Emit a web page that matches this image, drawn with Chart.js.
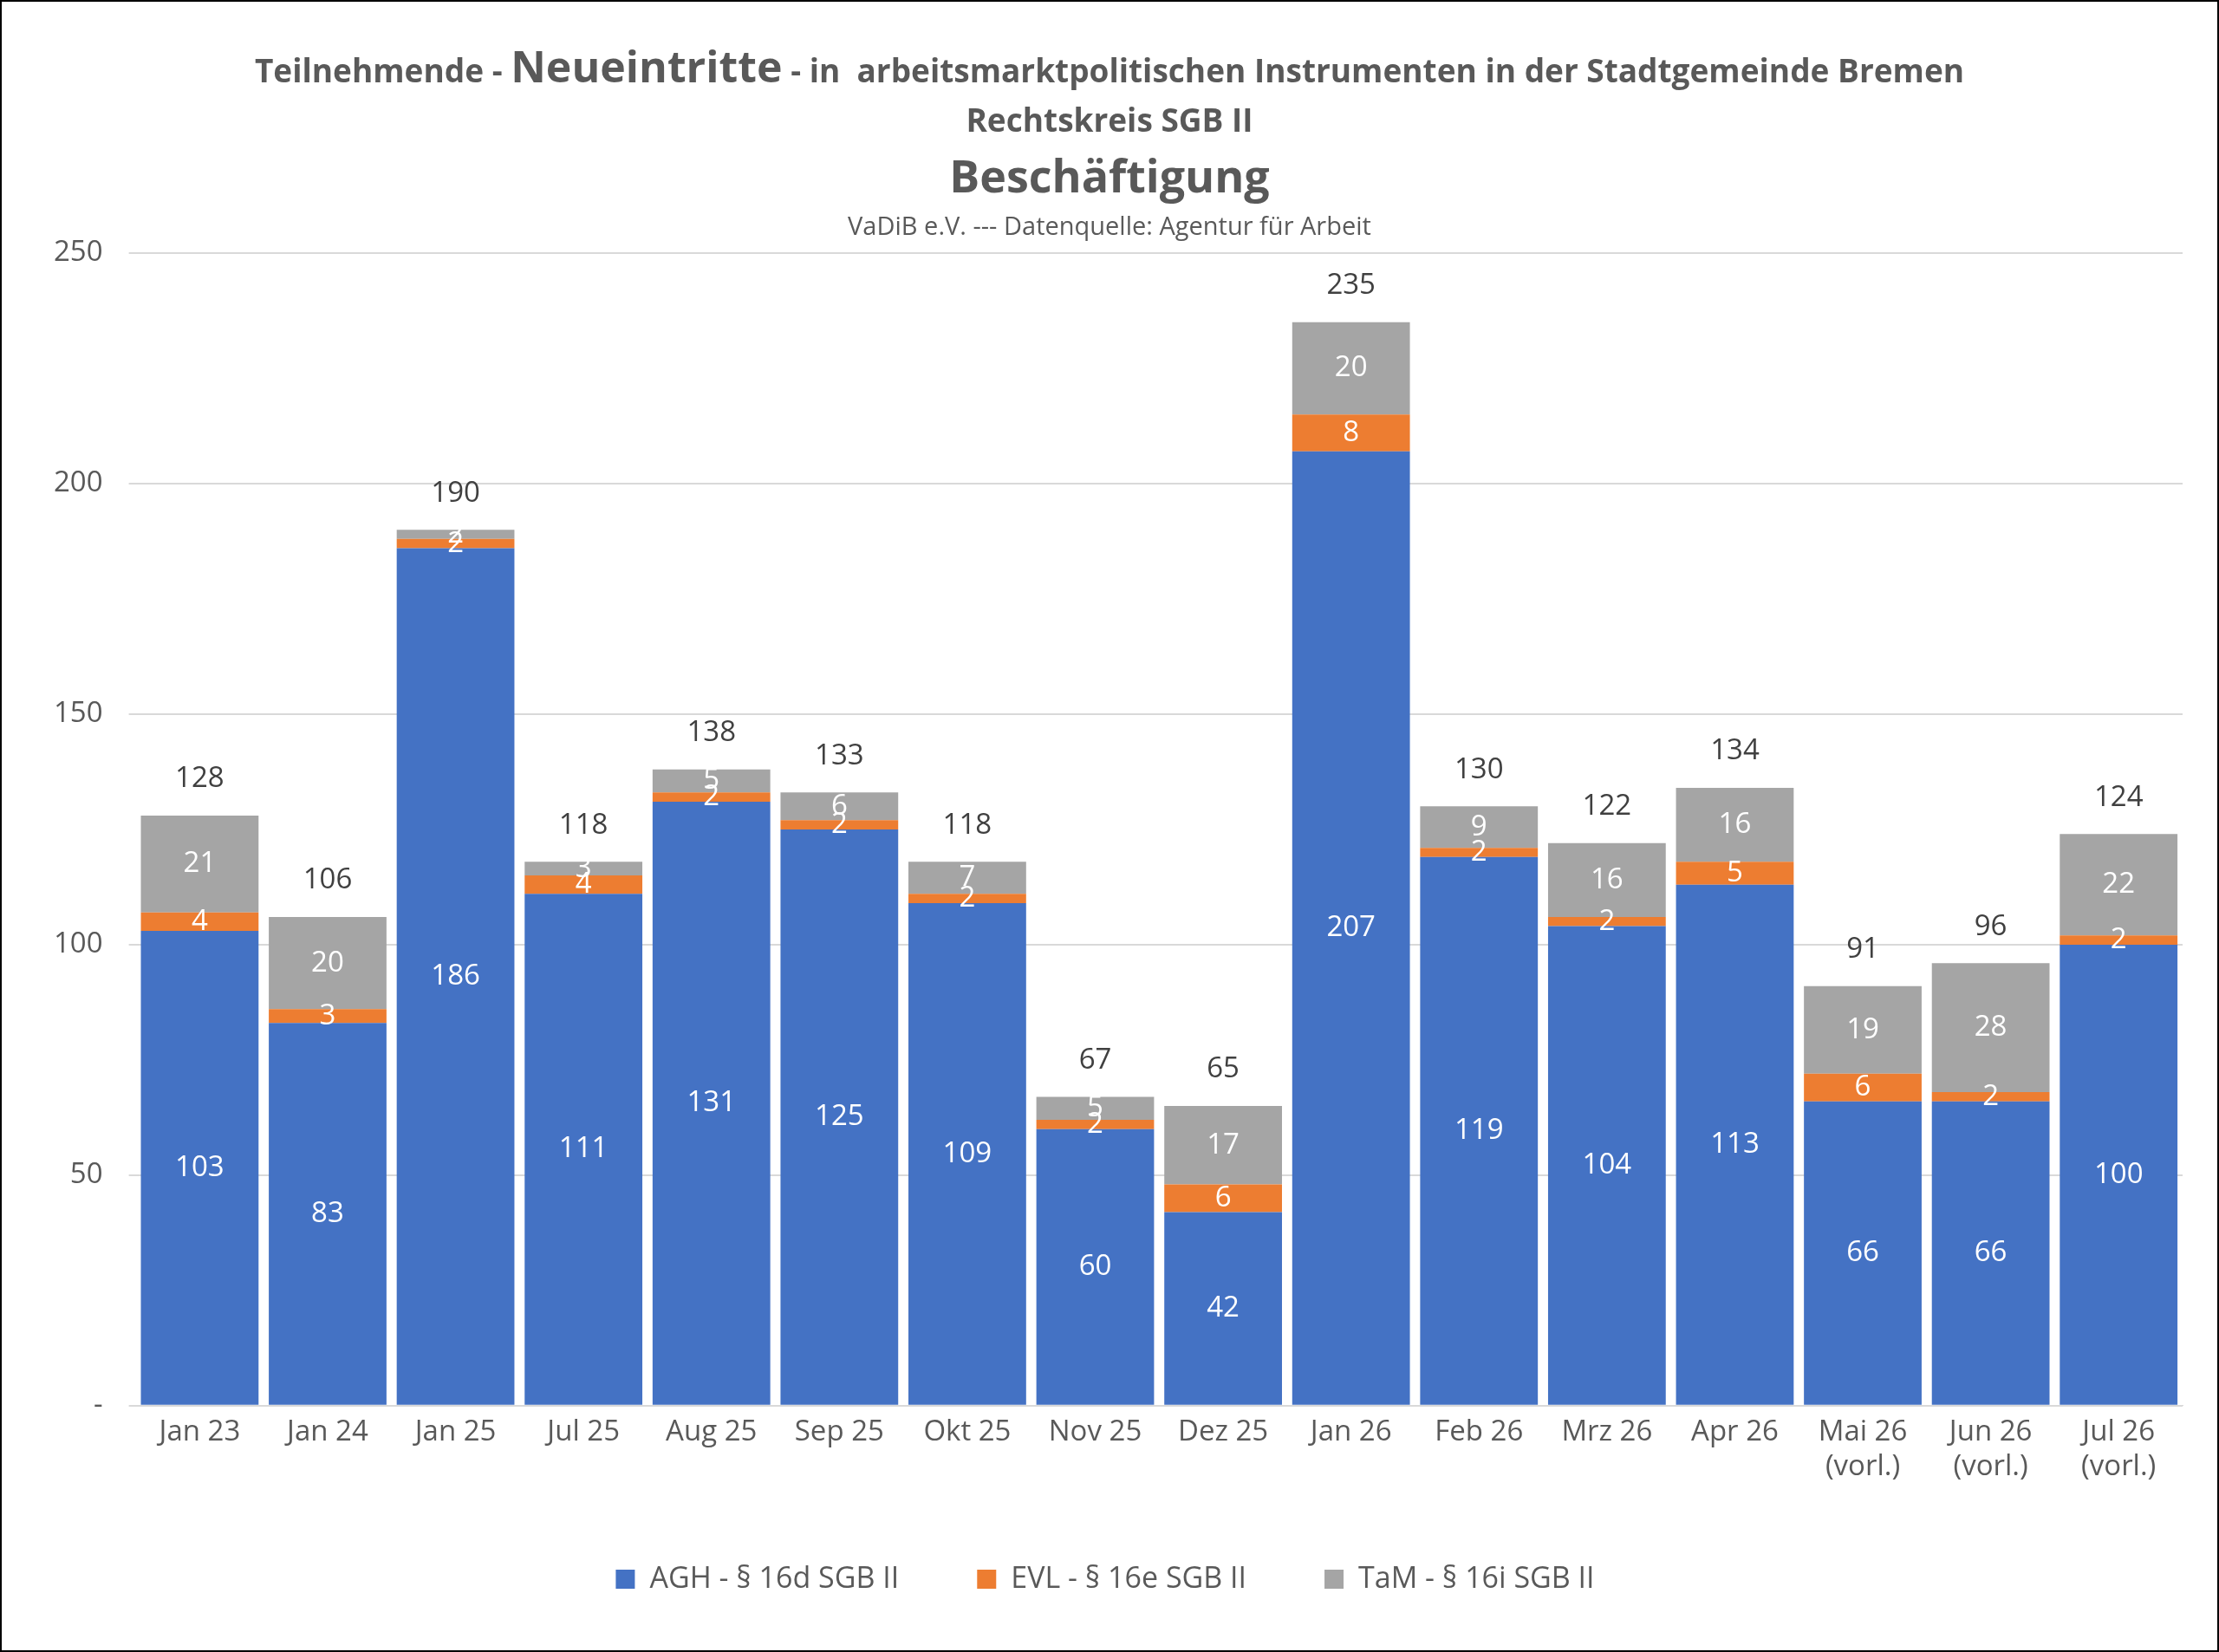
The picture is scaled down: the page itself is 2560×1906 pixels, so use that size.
<!DOCTYPE html>
<html>
<head>
<meta charset="utf-8">
<script src="https://cdn.jsdelivr.net/npm/chart.js@4"></script>
<style>
  body { margin: 0; background: #fff; font-family: "Open Sans", sans-serif; }
  #wrap { position: relative; width: 2556px; height: 1902px; border: 2px solid #000; }
  #titles { position: absolute; top: 0; left: 0; width: 100%; text-align: center; color: #595959; font-weight: bold; }
  .t1 { position: absolute; top: 40px; width: 100%; font-size: 37px; }
  .t1 .big { font-size: 50px; }
  .t2 { position: absolute; top: 110px; width: 100%; font-size: 37px; }
  .t3 { position: absolute; top: 164px; width: 100%; font-size: 52px; }
  .t4 { position: absolute; top: 238px; width: 100%; font-size: 29px; font-weight: normal; }
  canvas { position: absolute; top: 0; left: 0; }
</style>
</head>
<body>
<div id="wrap">
  <canvas id="c" width="2556" height="1902"></canvas>
  <div id="titles">
    <div class="t1">Teilnehmende - <span class="big">Neueintritte</span> - in&nbsp; arbeitsmarktpolitischen Instrumenten in der Stadtgemeinde Bremen</div>
    <div class="t2">Rechtskreis SGB II</div>
    <div class="t3">Beschäftigung</div>
    <div class="t4">VaDiB e.V. --- Datenquelle: Agentur für Arbeit</div>
  </div>
</div>
<script>
const labels = ["Jan 23", "Jan 24", "Jan 25", "Jul 25", "Aug 25", "Sep 25", "Okt 25", "Nov 25", "Dez 25", "Jan 26", "Feb 26", "Mrz 26", "Apr 26", ["Mai 26", "(vorl.)"], ["Jun 26", "(vorl.)"], ["Jul 26", "(vorl.)"]];
const agh = [103, 83, 186, 111, 131, 125, 109, 60, 42, 207, 119, 104, 113, 66, 66, 100];
const evl = [4, 3, 2, 4, 2, 2, 2, 2, 6, 8, 2, 2, 5, 6, 2, 2];
const tam = [21, 20, 2, 3, 5, 6, 7, 5, 17, 20, 9, 16, 16, 19, 28, 22];

const labelPlugin = {
  id: "labels",
  afterDatasetsDraw(chart) {
    const ctx = chart.ctx;
    ctx.save();
    ctx.textAlign = "center";
    ctx.textBaseline = "middle";
    ctx.font = "33px 'Open Sans'";
    chart.data.datasets.forEach((ds, di) => {
      chart.getDatasetMeta(di).data.forEach((bar, i) => {
        ctx.fillStyle = "#fff";
        ctx.fillText(ds.data[i], bar.x, (bar.y + bar.base) / 2);
      });
    });
    const top = chart.getDatasetMeta(2).data;
    ctx.fillStyle = "#404040";
    top.forEach((bar, i) => {
      const total = agh[i] + evl[i] + tam[i];
      ctx.fillText(total, bar.x, bar.y - 42);
    });
    ctx.restore();
  }
};

new Chart(document.getElementById("c"), {
  type: "bar",
  data: {
    labels: labels,
    datasets: [
      { label: "AGH - § 16d SGB II", data: agh, backgroundColor: "#4472C4" },
      { label: "EVL - § 16e SGB II", data: evl, backgroundColor: "#ED7D31" },
      { label: "TaM - § 16i SGB II", data: tam, backgroundColor: "#A5A5A5" }
    ]
  },
  options: {
    responsive: false,
    animation: false,
    layout: { padding: { top: 290, left: 30, right: 40, bottom: 55 } },
    datasets: { bar: { barPercentage: 1, categoryPercentage: 0.92 } },
    plugins: {
      legend: {
        position: "bottom",
        labels: { font: { size: 34, family: "Open Sans" }, color: "#595959", boxWidth: 22, boxHeight: 22, padding: 90 }
      },
      tooltip: { enabled: false }
    },
    scales: {
      x: {
        stacked: true,
        grid: { display: false },
        border: { color: "#d9d9d9" },
        ticks: { font: { size: 33, family: "Open Sans" }, color: "#595959" }
      },
      y: {
        stacked: true,
        min: 0, max: 250,
        ticks: {
          stepSize: 50,
          font: { size: 33, family: "Open Sans" },
          color: "#595959",
          padding: 30,
          callback: v => v === 0 ? "-" : v
        },
        grid: { color: "#d9d9d9", lineWidth: 2 },
        border: { display: false }
      }
    }
  },
  plugins: [labelPlugin]
});
</script>
</body>
</html>
